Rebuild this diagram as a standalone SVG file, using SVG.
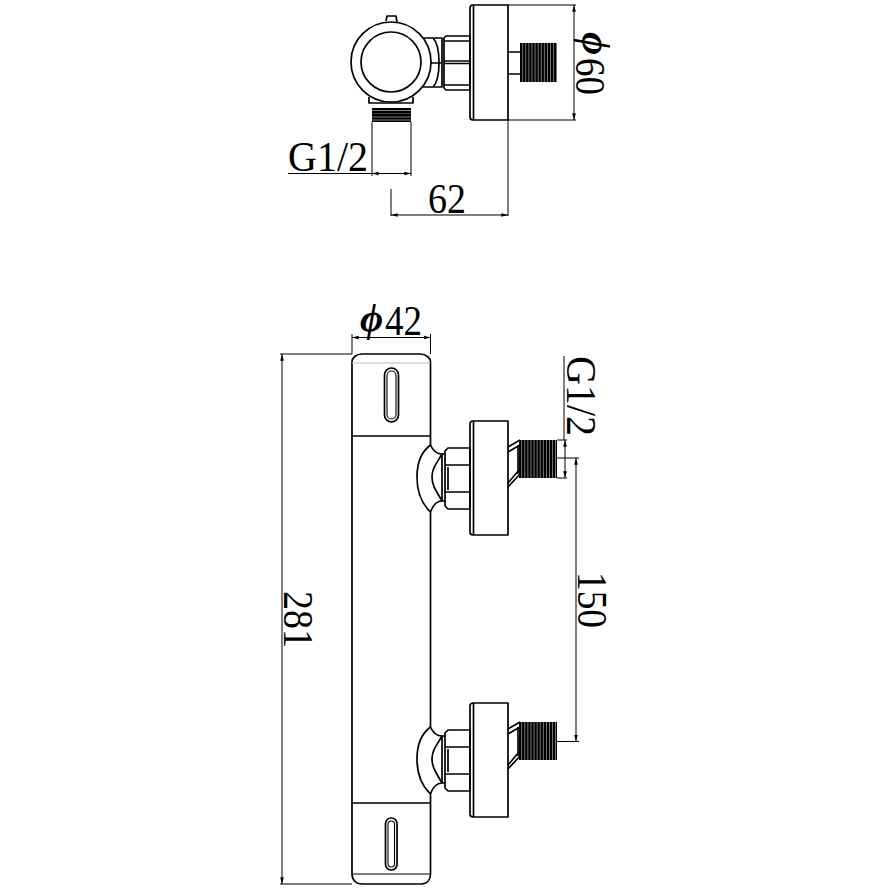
<svg xmlns="http://www.w3.org/2000/svg" xmlns:xlink="http://www.w3.org/1999/xlink" width="889" height="889" viewBox="0 0 889 889">
<style>
.o{fill:none;stroke:#000;stroke-width:1.7;stroke-linejoin:round}
.t{fill:none;stroke:#000;stroke-width:1.1}
.d{fill:none;stroke:#000;stroke-width:1}
.th{fill:none;stroke:#000;stroke-dasharray:2.600 .45}
.l{font-family:"Liberation Serif","Times New Roman",serif;font-size:42px;fill:#000}
.p{font-family:"Liberation Serif",serif;font-weight:bold;font-style:italic;font-size:40px;fill:#000}
</style>
<defs>
<marker id="a" viewBox="0 0 8 6" refX="8" refY="3" markerWidth="7" markerHeight="5" orient="auto-start-reverse" markerUnits="userSpaceOnUse"><path d="M0 .8L8 3L0 5.2z" fill="#000"/></marker>
<g id="conn">
<path class="o" d="M430.500 445C421 452 417 464 417 477C417 490 421 503 430.500 512"/>
<path class="o" d="M430.500 445C433 451 437 454 442 454C437 463 432 468 432 477C432 486 437 492 442 501C437 501 433 505 430.500 512"/>
<path class="o" d="M442 454H445M442 501H445M442 454V501"/>
<path class="o" d="M445 451L448 448H470V509H448L445 506ZM445 465H470M445 492H470M448 467V490"/>
<path class="o" d="M473 421H508V535H473C471 535 470 534 470 532V424C470 422 471 421 473 421ZM473.500 421V535"/>
<path class="o" d="M508 447L520 440M508 452L520 445M508 487L520 474M508 483L519 470M518 445V474"/>
<path class="th" stroke-width="38" d="M519 459H557"/>
</g>
</defs>
<g id="top-view">
<circle class="o" cx="391" cy="62" r="40"/>
<circle class="o" cx="391" cy="62" r="30"/>
<path class="o" d="M386 21L387 16H396L397 22"/>
<path class="o" d="M423 38H442V87H423M433 38C441 46 441 79 433 87M431 63H442"/>
<path class="o" d="M369 97V103H413V97"/>
<path class="th" stroke-width="39" d="M391.500 108V122"/>
<path class="o" d="M444 38L446 36H470V90H446L444 88ZM444 41H470M444 61H470M444 63.500H470M444 85H470"/>
<path class="o" d="M473 5H508V120H473C471 120 470 119 470 117V8C470 6 471 5 473 5ZM473.500 5V120"/>
<path class="o" d="M508 52H520M508 74H520"/>
<path class="th" stroke-width="39" d="M520 62.500H557"/>
</g>
<g id="body">
<path class="o" d="M430.500 445V362C430.500 358 426 354 420 354H362C356 354 352 358 352 362V874C352 880 356 884 362 884H421C427 884 430.500 880 430.500 874V794M430.500 727V512"/>
<path class="o" d="M352 436H430.500M352 803H430.500"/>
<path class="t" d="M352 874H430.500"/>
<path d="M352 363H430.500" fill="none" stroke="#bbb" stroke-width="1"/>
<rect class="o" x="384.500" y="368" width="14" height="54" rx="7"/>
<rect class="t" x="387" y="371" width="9" height="48" rx="4.500"/>
<rect class="o" x="385.500" y="818" width="11.500" height="52" rx="5.700"/>
<rect class="t" x="388" y="821" width="6.500" height="46" rx="3.200"/>
<use xlink:href="#conn" href="#conn"/>
<use xlink:href="#conn" href="#conn" y="282"/>
</g>
<g id="dimensions">
<path class="d" d="M288 173.500H372M372 122V176M411 122V176"/>
<path class="d" d="M372 173.500H411" marker-start="url(#a)" marker-end="url(#a)"/>
<path class="d" d="M391 189V216M508 120V216"/>
<path class="d" d="M391 215H508" marker-start="url(#a)" marker-end="url(#a)"/>
<path class="d" d="M508 5H576M508 120H576"/>
<path class="d" d="M574 5V120" marker-start="url(#a)" marker-end="url(#a)"/>
<path class="d" d="M352 334V354M430.500 334V354"/>
<path class="d" d="M352 337.500H430.500" marker-start="url(#a)" marker-end="url(#a)"/>
<path class="d" d="M280 354H352" stroke-width="1.400"/>
<path class="d" d="M280 884H352"/>
<path class="d" d="M282 354V884" marker-start="url(#a)" marker-end="url(#a)"/>
<path class="d" d="M564 356V440" stroke-width="1.400"/>
<path class="d" d="M557 440H567M557 478H567"/>
<path class="d" d="M565 440V478" marker-start="url(#a)" marker-end="url(#a)"/>
<path class="d" d="M557 458H579M557 741.500H579"/>
<path class="d" d="M576 458V741.500" marker-start="url(#a)" marker-end="url(#a)"/>
</g>
<g id="labels">
<text class="l" x="288" y="171" textLength="80" lengthAdjust="spacingAndGlyphs">G1/2</text>
<text class="l" x="428" y="213" textLength="38" lengthAdjust="spacingAndGlyphs">62</text>
<text class="l" x="385" y="335" textLength="37" lengthAdjust="spacingAndGlyphs">42</text>
<text class="p" x="360" y="331">ϕ</text>
<text class="l" transform="translate(576 58) rotate(90)" textLength="37" lengthAdjust="spacingAndGlyphs">60</text>
<text class="p" transform="translate(583 32) rotate(90)">ϕ</text>
<text class="l" transform="translate(567 356) rotate(90)" textLength="80" lengthAdjust="spacingAndGlyphs">G1/2</text>
<text class="l" transform="translate(578 572) rotate(90)" textLength="56" lengthAdjust="spacingAndGlyphs">150</text>
<text class="l" transform="translate(284 591) rotate(90)" textLength="57" lengthAdjust="spacingAndGlyphs">281</text>
</g>
</svg>
